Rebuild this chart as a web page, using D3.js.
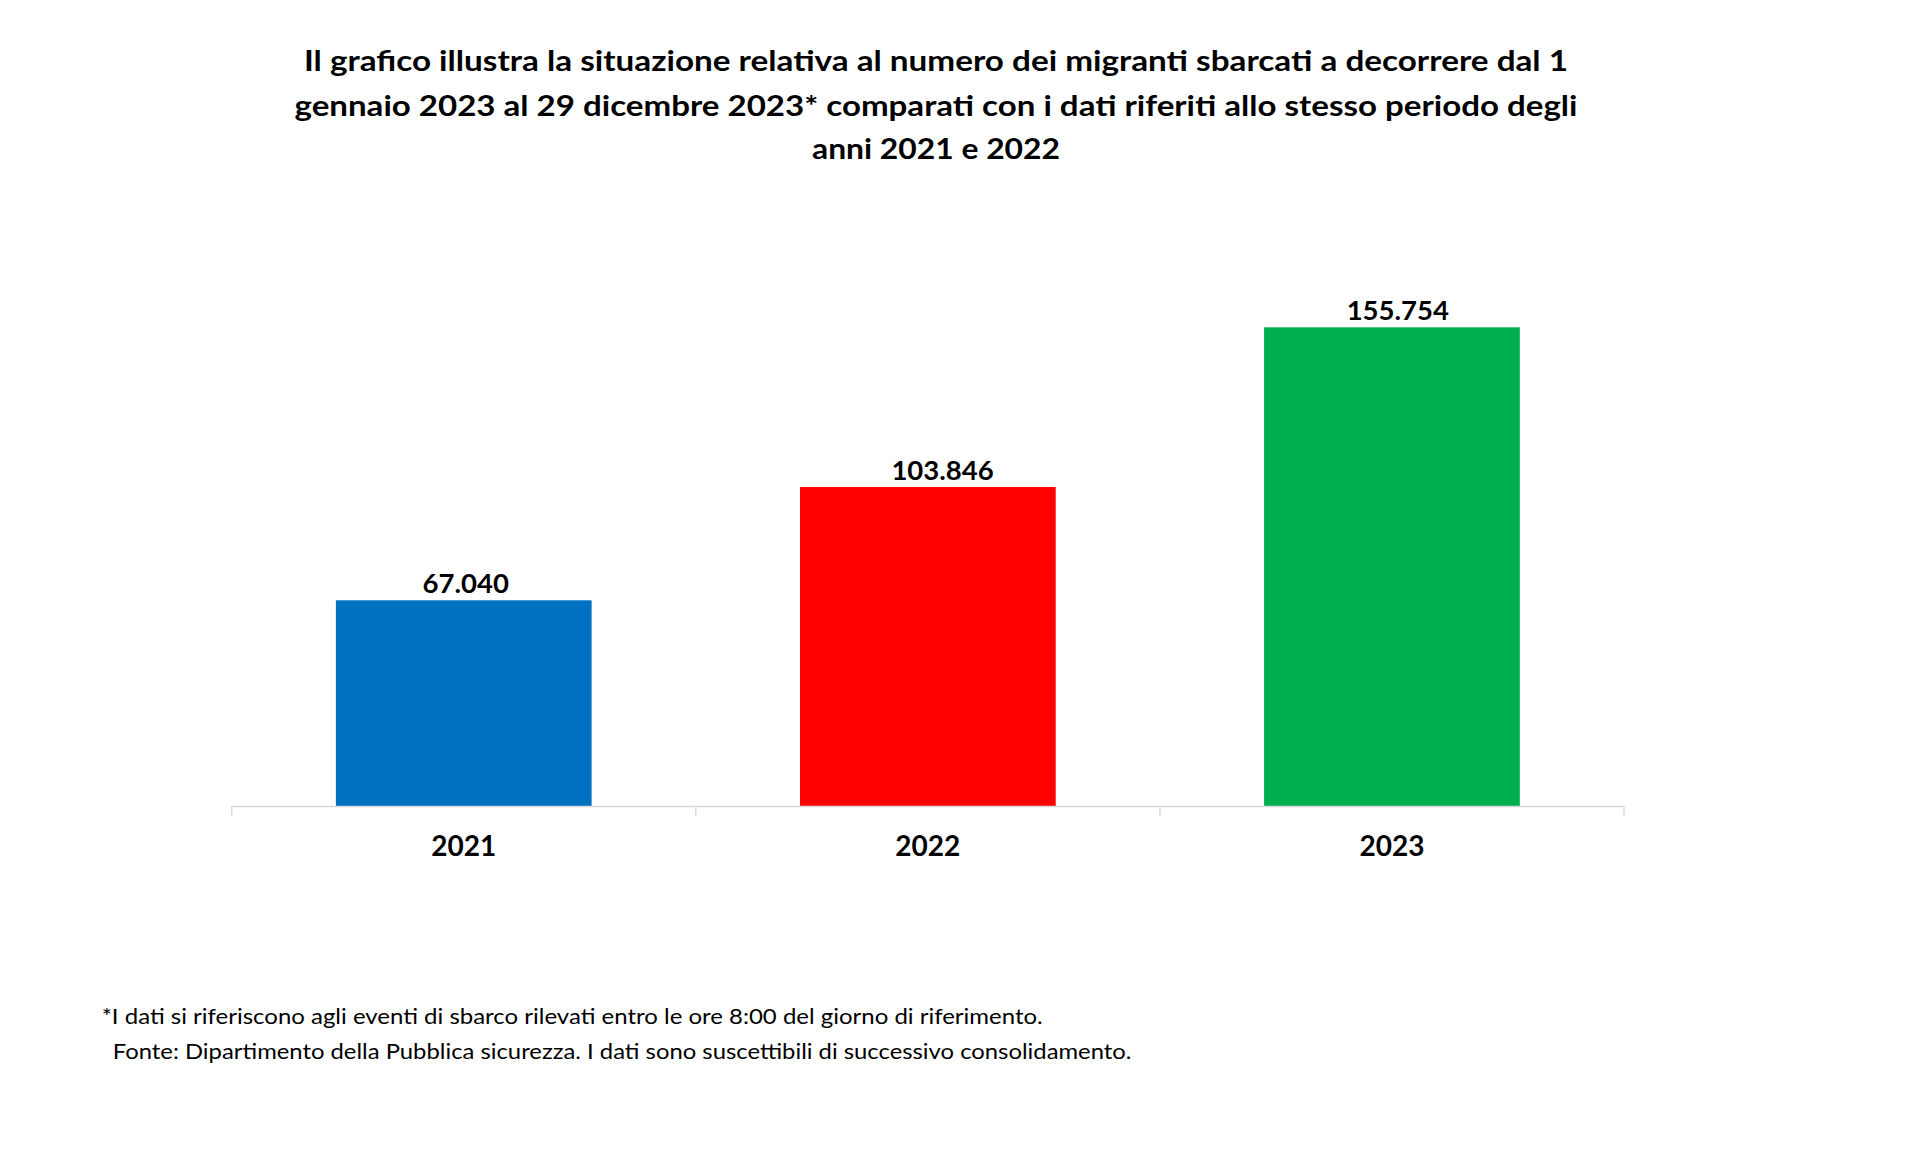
<!DOCTYPE html>
<html>
<head>
<meta charset="utf-8">
<script src="https://cdn.jsdelivr.net/npm/d3@7"></script>
<style>
  html, body { margin: 0; padding: 0; background: #ffffff; }
  svg { display: block; }
</style>
</head>
<body>
<script>
// ---- data ----
const categories = ["2021", "2022", "2023"];
const values = [67040, 103846, 155754];
const palette = ["#0070C0", "#FF0000", "#00B050"];
const titleLines = [
  "Il grafico illustra la situazione relativa al numero dei migranti sbarcati a decorrere dal 1",
  "gennaio 2023 al 29 dicembre 2023* comparati con i dati riferiti allo stesso periodo degli",
  "anni 2021 e 2022"
];
const footnotes = [
  "*I dati si riferiscono agli eventi di sbarco rilevati entro le ore 8:00 del giorno di riferimento.",
  "Fonte: Dipartimento della Pubblica sicurezza. I dati sono suscettibili di successivo consolidamento."
];

// ---- layout ----
const W = 1922, H = 1162;
const plot = { left: 231.7, right: 1624, top: 252.7, bottom: 806.6 };
const FONT = "Lato, 'Open Sans', 'Liberation Sans', sans-serif";
const labelDx = [2, 14.7, 5.8];

const svg = d3.select("body").append("svg")
  .attr("width", W).attr("height", H);

const it = d3.formatLocale({ decimal: ",", thousands: ".", grouping: [3], currency: ["€", ""] });
const fmt = it.format(",d");

const x = d3.scaleBand().domain(categories).range([plot.left, plot.right]).paddingInner(0.449).paddingOuter(0.2245);
const y = d3.scaleLinear().domain([0, 180000]).range([plot.bottom, plot.top]);
const color = d3.scaleOrdinal().domain(categories).range(palette);

// title
const titleCx = 936;
const titleBaselines = [71, 116, 159];
const titleWidths = [1264, 1283, 248];
svg.append("g").selectAll("text").data(titleLines).join("text")
  .attr("x", titleCx)
  .attr("y", (d, i) => titleBaselines[i])
  .attr("text-anchor", "middle")
  .attr("font-family", FONT)
  .attr("font-weight", "bold")
  .attr("font-size", 29)
  .attr("fill", "#000")
  .attr("textLength", (d, i) => titleWidths[i])
  .attr("lengthAdjust", "spacingAndGlyphs")
  .text(d => d);

// bars
const data = categories.map((c, i) => ({ cat: c, value: values[i], i }));
svg.append("g").selectAll("rect").data(data).join("rect")
  .attr("x", d => x(d.cat))
  .attr("y", d => y(d.value))
  .attr("width", x.bandwidth())
  .attr("height", d => y(0) - y(d.value))
  .attr("fill", d => color(d.cat));

// value labels
svg.append("g").selectAll("text").data(data).join("text")
  .attr("x", d => x(d.cat) + x.bandwidth() / 2 + labelDx[d.i])
  .attr("y", d => y(d.value) - 7)
  .attr("text-anchor", "middle")
  .attr("font-family", FONT)
  .attr("font-weight", "bold")
  .attr("font-size", 27.5)
  .attr("fill", "#000")
  .text(d => fmt(d.value));

// x axis line with boundary ticks
const axisG = svg.append("g");
axisG.append("line")
  .attr("x1", plot.left).attr("x2", plot.right)
  .attr("y1", y(0)).attr("y2", y(0))
  .attr("stroke", "#d9d9d9").attr("stroke-width", 1.5);
const step = x.step();
const boundaries = d3.range(categories.length + 1).map(i => plot.left + i * step);
axisG.selectAll("line.tick").data(boundaries).join("line")
  .attr("class", "tick")
  .attr("x1", d => d).attr("x2", d => d)
  .attr("y1", y(0)).attr("y2", y(0) + 9)
  .attr("stroke", "#d9d9d9").attr("stroke-width", 1.5);

// category labels
svg.append("g").selectAll("text").data(categories).join("text")
  .attr("x", d => x(d) + x.bandwidth() / 2)
  .attr("y", 856)
  .attr("text-anchor", "middle")
  .attr("font-family", FONT)
  .attr("font-weight", "bold")
  .attr("font-size", 28)
  .attr("fill", "#000")
  .text(d => d);

// footnotes
const footX = [101.7, 112.8];
const footY = [1024, 1059];
const footW = [941, 1018.6];
svg.append("g").selectAll("text").data(footnotes).join("text")
  .attr("x", (d, i) => footX[i])
  .attr("y", (d, i) => footY[i])
  .attr("font-family", FONT)
  .attr("font-size", 22)
  .attr("fill", "#000")
  .attr("textLength", (d, i) => footW[i])
  .attr("lengthAdjust", "spacingAndGlyphs")
  .text(d => d);
</script>
</body>
</html>
